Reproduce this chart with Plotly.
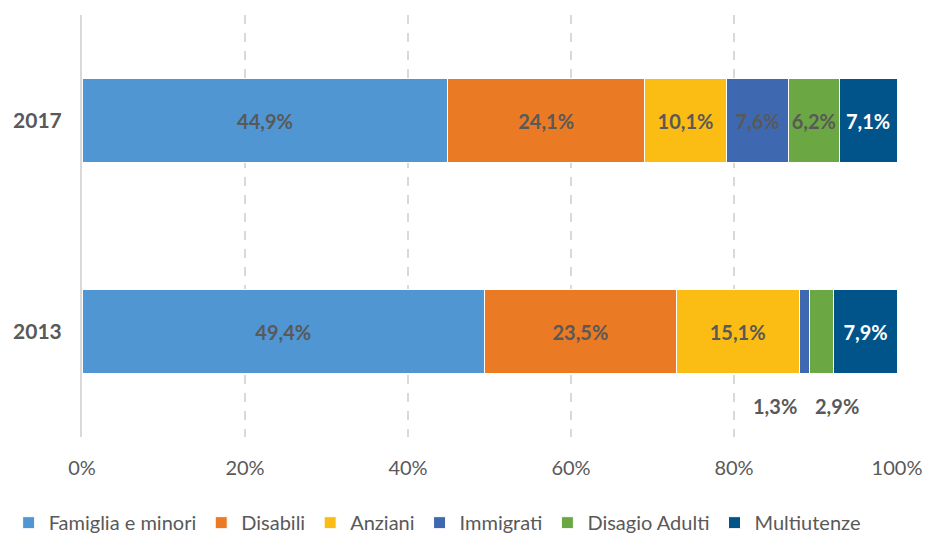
import plotly.graph_objects as go

years = ["2013", "2017"]
categories = ["Famiglia e minori", "Disabili", "Anziani", "Immigrati", "Disagio Adulti", "Multiutenze"]
values_2013 = [49.4, 23.5, 15.1, 1.3, 2.9, 7.9]
values_2017 = [44.9, 24.1, 10.1, 7.6, 6.2, 7.1]
colors = ["#4F96D3", "#EB7A24", "#FBBC13", "#3E69B0", "#6BA743", "#00548A"]
x_ticks = [0, 20, 40, 60, 80, 100]

GREY = "#595959"
FONT = "Lato"


def pct(v):
    return f"{v:.1f}%".replace(".", ",")


fig = go.Figure()
for i, cat in enumerate(categories):
    v13, v17 = values_2013[i], values_2017[i]
    # the two thin 2013 slices get their labels below the bar instead
    t13 = "" if v13 < 5 else pct(v13)
    text_color = "white" if cat == "Multiutenze" else GREY
    fig.add_trace(
        go.Bar(
            y=years,
            x=[v13, v17],
            name=cat,
            orientation="h",
            marker=dict(color=colors[i], line=dict(color="white", width=1)),
            text=[t13, pct(v17)],
            textposition="inside",
            insidetextanchor="middle",
            textangle=0,
            textfont=dict(family=FONT, size=20, color=text_color, weight="bold"),
            constraintext="none",
            hoverinfo="skip",
        )
    )

# labels under the 2013 bar for the narrow slices
cum = 0.0
shifts = {"Immigrati": -30, "Disagio Adulti": 15}
row = years.index("2013")
for cat, v in zip(categories, values_2013):
    if cat in shifts:
        fig.add_annotation(
            x=cum + v / 2, y=row, xref="x", yref="y",
            text=f"<b>{pct(v)}</b>", showarrow=False,
            xshift=shifts[cat], yshift=-74,
            font=dict(family=FONT, size=20, color=GREY),
        )
    cum += v

# page body adds an 8px margin, so the figure is shifted by 8px
fig.update_layout(
    barmode="stack",
    bargap=0.6,
    width=919,
    height=525,
    margin=dict(l=74, r=30, t=7, b=96, autoexpand=False),
    plot_bgcolor="white",
    paper_bgcolor="white",
    font=dict(family=FONT, color=GREY),
    legend=dict(
        orientation="h",
        # left of the plot area so plotly lets it use the left margin too
        x=-0.09, xanchor="left",
        y=-0.203, yanchor="middle",
        font=dict(family=FONT, size=20, color=GREY),
        traceorder="normal",
        itemwidth=30,
        tracegroupgap=0,
    ),
)
fig.update_xaxes(
    range=[0, 100],
    tickvals=x_ticks,
    ticktext=[f"{t}%" for t in x_ticks],
    tickfont=dict(family=FONT, size=20, color=GREY),
    showgrid=True,
    gridcolor="#D9D9D9",
    griddash="dash",
    gridwidth=1.5,
    zeroline=False,
    ticks="outside",
    tickcolor="rgba(0,0,0,0)",
    ticklen=13,
)
fig.update_yaxes(
    type="category",
    categoryorder="array",
    categoryarray=years,
    range=[-0.5, 1.5],
    tickfont=dict(family=FONT, size=21, color=GREY, weight="bold"),
    showline=True,
    linecolor="#D9D9D9",
    linewidth=2,
    showgrid=False,
    ticks="outside",
    tickcolor="rgba(0,0,0,0)",
    ticklen=14,
)

fig.write_html("out.html")
